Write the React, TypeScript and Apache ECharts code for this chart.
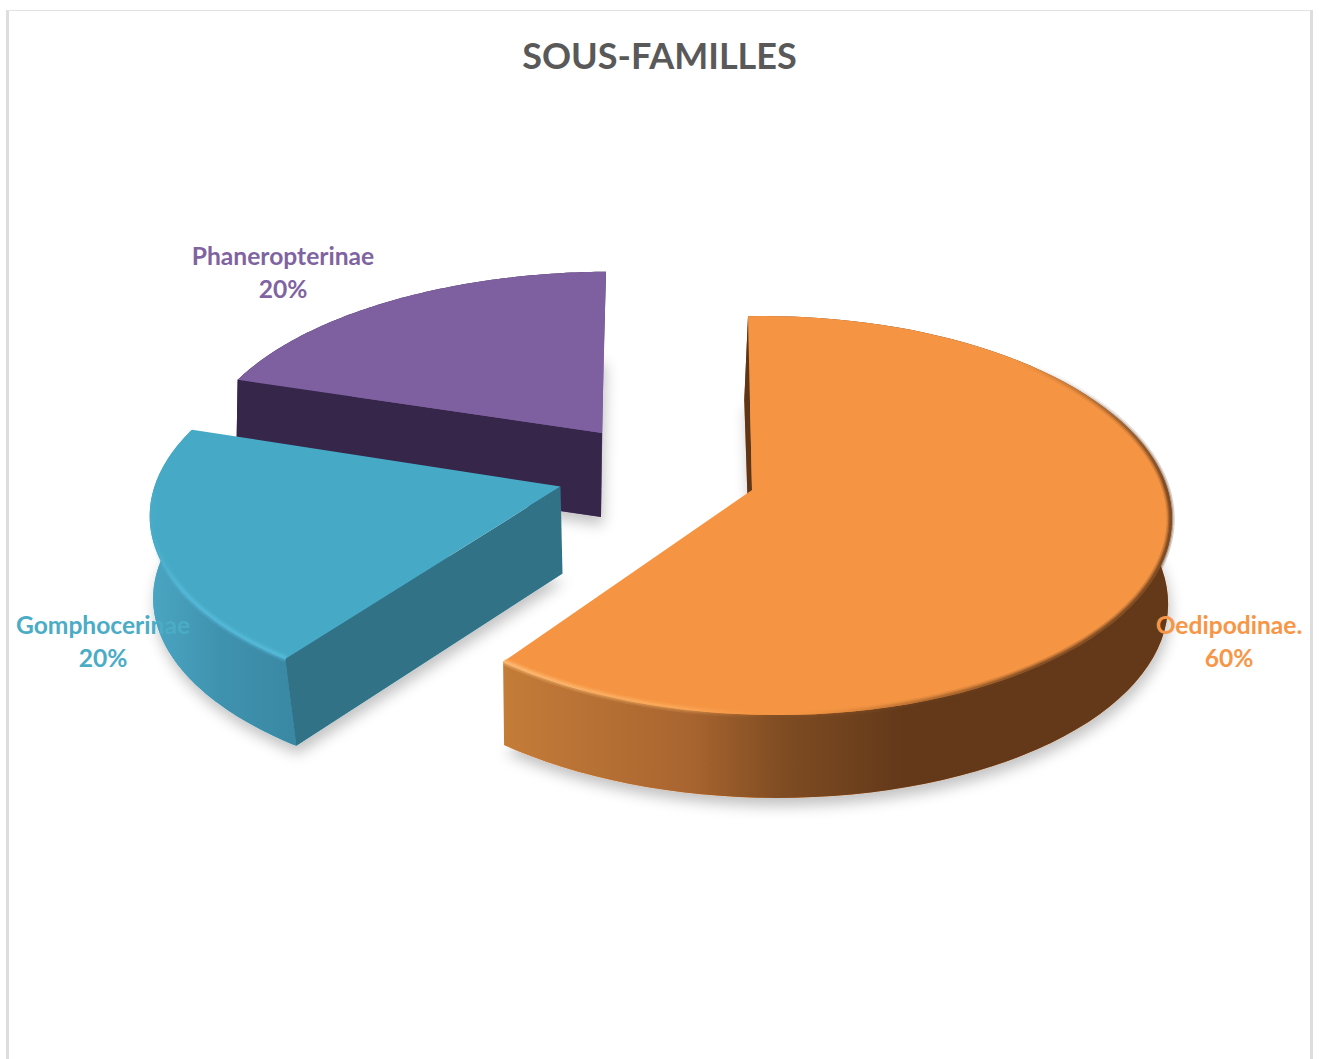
import React, { useEffect, useRef } from "react";
import * as echarts from "echarts";

const chartTitle = "SOUS-FAMILLES";
const categories = ["Oedipodinae.", "Gomphocerinae", "Phaneropterinae"];
const shares = [60, 20, 20];

const FONT = "Lato, Carlito, 'Open Sans', sans-serif";
const TILT = 0.128;
const ARC_STEPS = 90;
const RIM_INSET = 0.997;

type Stop = [number, string];
type Rim = { from: number; to: number; x0: number; y0: number; x1: number; y1: number; stops: Stop[] };

// Projection and colouring of each exploded wedge of the 3D pie.
const wedgeStyles = [
  {
    ax: 752, ay: 490, rx: 397, ry: 196, skew: -0.045, lean: -4.5,
    drop: 84, slide: -2, shrink: 0.995, baseLean: -2,
    face: "#f59543", label: "#f79646", labelX: 1229, labelY: 641,
    radialWall: "#5e3516",
    wallStops: [[0, "#c47c38"], [0.28, "#a96530"], [0.42, "#7f4c22"], [0.6, "#63391a"], [1, "#63391a"]] as Stop[],
    wallFrom: 502, wallTo: 1170,
    rims: [
      { from: 42, to: 100, x0: 0, y0: 360, x1: 0, y1: 490, stops: [[0, "rgba(99,57,26,0)"], [0.5, "rgba(99,57,26,0.55)"], [1, "rgba(99,57,26,0.95)"]] },
      { from: 100, to: 216, x0: 502, y0: 0, x1: 1170, y1: 0, stops: [[0, "rgba(255,190,120,0.9)"], [0.28, "rgba(255,180,100,0.5)"], [0.4, "rgba(245,149,67,0)"], [0.62, "rgba(120,70,30,0.4)"], [0.8, "rgba(99,57,26,0.85)"], [1, "rgba(99,57,26,0.95)"]] },
    ] as Rim[],
  },
  {
    ax: 560.5, ay: 486.5, rx: 406, ry: 191, skew: 0, lean: 10,
    drop: 87, slide: 2, shrink: 1, baseLean: -10,
    face: "#46aac6", label: "#4bacc6", labelX: 103, labelY: 641,
    radialWall: "#317286",
    wallStops: [[0, "#4aa6c3"], [0.5, "#3f92ae"], [1, "#3a88a3"]] as Stop[],
    wallFrom: 148, wallTo: 295,
    rims: [
      { from: 216, to: 268, x0: 287, y0: 0, x1: 148, y1: 0, stops: [[0, "rgba(88,190,222,0.8)"], [0.75, "rgba(88,190,222,0.7)"], [1, "rgba(88,190,222,0)"]] },
    ] as Rim[],
  },
  {
    ax: 602, ay: 433, rx: 407, ry: 182, skew: -0.02, lean: 4.5,
    drop: 84, slide: -1, shrink: 1, baseLean: -1.5,
    face: "#7e5f9f", label: "#8064a2", labelX: 283, labelY: 272,
    radialWall: "#35264a",
    wallStops: [[0, "#35264a"], [1, "#35264a"]] as Stop[],
    wallFrom: 238, wallTo: 606,
    rims: [] as Rim[],
  },
];

type Wedge = (typeof wedgeStyles)[number];

function projectTop(w: Wedge, deg: number): [number, number] {
  const t = (deg * Math.PI) / 180;
  const u = Math.sin(t);
  const v = Math.cos(t);
  const depth = 1 + TILT * v + w.skew * u;
  return [w.ax + (w.rx * u + w.lean * v) / depth, w.ay - (w.ry * v) / depth];
}

function projectBase(w: Wedge, deg: number): [number, number] {
  const t = (deg * Math.PI) / 180;
  const u = Math.sin(t);
  const v = Math.cos(t);
  const depth = 1 + TILT * v + w.skew * u;
  const [x, y] = projectTop(w, deg);
  return [
    w.ax + (x - w.ax) * w.shrink + w.slide + (w.baseLean * v) / depth,
    w.ay + (y - w.ay) * w.shrink + w.drop,
  ];
}

function projectRim(w: Wedge, deg: number): [number, number] {
  const [x, y] = projectTop(w, deg);
  return [w.ax + (x - w.ax) * RIM_INSET, w.ay + (y - w.ay) * RIM_INSET];
}

function arc(project: (d: number) => [number, number], from: number, to: number) {
  const pts: [number, number][] = [];
  for (let i = 0; i <= ARC_STEPS; i++) pts.push(project(from + ((to - from) * i) / ARC_STEPS));
  return pts;
}

function renderWedge(_: unknown, api: any) {
  const index = api.value(0);
  const from = (api.value(2) / 100) * 360;
  const to = from + (api.value(1) / 100) * 360;
  const w = wedgeStyles[index];

  const top = (d: number) => projectTop(w, d);
  const base = (d: number) => projectBase(w, d);
  const topArc = arc(top, from, to);
  const baseArc = arc(base, from, to);
  const apexTop: [number, number] = [w.ax, w.ay];
  const apexBase: [number, number] = [w.ax + w.slide, w.ay + w.drop];

  const wallGradient = new echarts.graphic.LinearGradient(w.wallFrom, 0, w.wallTo, 0, w.wallStops.map(([offset, color]) => ({ offset, color })), true);

  const children: any[] = [
    {
      type: "polygon",
      silent: true,
      shape: { points: [apexBase, ...baseArc] },
      style: { fill: w.face, shadowBlur: 14, shadowColor: "rgba(0,0,0,0.24)", shadowOffsetY: 8, shadowOffsetX: 2 },
    },
    { type: "polygon", silent: true, shape: { points: [...topArc, ...baseArc.slice().reverse()] }, style: { fill: wallGradient } },
    { type: "polygon", silent: true, shape: { points: [apexTop, topArc[0], baseArc[0], apexBase] }, style: { fill: w.radialWall } },
    { type: "polygon", silent: true, shape: { points: [apexTop, ...topArc] }, style: { fill: w.face } },
  ];

  // Soft bevel along the outer rim, layered from wide and faint to narrow.
  w.rims.forEach((rim) => {
    const rimArc = arc((d) => projectRim(w, d), rim.from, rim.to);
    const rimGradient = () =>
      new echarts.graphic.LinearGradient(rim.x0, rim.y0, rim.x1, rim.y1, rim.stops.map(([offset, color]) => ({ offset, color })), true);
    [[8, 0.25], [5, 0.4], [2.5, 0.6]].forEach(([lineWidth, opacity]) => {
      children.push({
        type: "polyline",
        silent: true,
        shape: { points: rimArc },
        style: { fill: "none", stroke: rimGradient(), lineWidth, opacity, lineJoin: "round" },
      });
    });
  });

  children.push({
    type: "text",
    silent: true,
    style: {
      text: `${categories[index]}\n${api.value(1)}%`,
      x: w.labelX,
      y: w.labelY,
      fill: w.label,
      font: `700 24.6px ${FONT}`,
      lineHeight: 33,
      align: "center",
      verticalAlign: "middle",
    },
  });

  return { type: "group", children };
}

function buildOption() {
  let running = 0;
  const rows = categories.map((_, i) => {
    const row = [i, shares[i], running];
    running += shares[i];
    return row;
  });
  return {
    animation: false,
    backgroundColor: "#ffffff",
    title: {
      text: chartTitle,
      left: "center",
      top: 32,
      textStyle: { color: "#595959", fontFamily: FONT, fontWeight: 700, fontSize: 36 },
    },
    graphic: [
      { type: "rect", silent: true, shape: { x: 6, y: 10, width: 3, height: 1049 }, style: { fill: "#dddddd" } },
      { type: "rect", silent: true, shape: { x: 6, y: 10, width: 1307, height: 1 }, style: { fill: "#e2e2e2" } },
      { type: "rect", silent: true, shape: { x: 1310, y: 10, width: 3, height: 1049 }, style: { fill: "#dddddd" } },
    ],
    series: [
      {
        type: "custom",
        coordinateSystem: "none",
        renderItem: renderWedge,
        // Drawn back to front so nearer wedges cover the ones behind.
        data: rows.slice().reverse(),
      },
    ],
  };
}

export default function App() {
  const ref = useRef<HTMLDivElement>(null);
  useEffect(() => {
    document.body.style.margin = "0";
    const chart = echarts.init(ref.current!, undefined, { renderer: "svg" });
    chart.setOption(buildOption() as any);
    return () => chart.dispose();
  }, []);
  return <div ref={ref} style={{ width: 1319, height: 1059 }} />;
}
